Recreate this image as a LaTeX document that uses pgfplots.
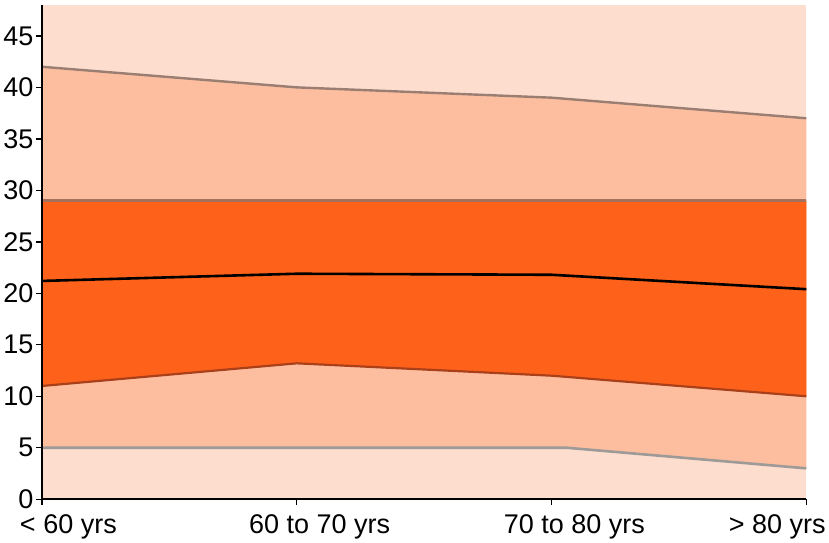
\documentclass[border=0pt]{standalone}
\usepackage{fontspec}
\setmainfont{Liberation Sans}
\usepackage{pgfplots}
\pgfplotsset{compat=1.18}
\definecolor{bgL}{HTML}{FDDDCE}
\definecolor{midO}{HTML}{FDBEA0}
\definecolor{darkO}{HTML}{FE6119}
\definecolor{topL}{HTML}{9A7E72}
\definecolor{ln29}{HTML}{A5705C}
\definecolor{lowL}{HTML}{A9401A}
\definecolor{botL}{HTML}{9E9A98}
\begin{document}
\begin{tikzpicture}
\begin{axis}[
  scale only axis, width=764pt, height=494pt,
  xmin=0, xmax=3, ymin=0, ymax=48,
  axis lines=left, axis line style={-, line width=1.6pt, black},
  axis on top,
  axis background/.style={fill=bgL},
  ytick={0,5,...,45},
  xtick={0,1,2,3}, xticklabels={},
  extra x ticks={0.104,1.09,2.09,2.886},
  extra x tick labels={{< 60 yrs},{60 to 70 yrs},{70 to 80 yrs},{> 80 yrs}},
  extra x tick style={major tick length=0pt},
  tick align=outside, major tick length=6pt,
  tick style={line width=1.4pt, black},
  tick label style={font=\fontsize{27}{30}\selectfont},
  /pgf/number format/assume math mode=true,
  yticklabel style={xshift=1pt},
  xticklabel style={yshift=-12pt},
]
% outer band (upper line to lower grey line)
\addplot[fill=midO, draw=none] coordinates {(0,42) (1,40) (2,39) (3,37) (3,3) (2.06,5) (1,5) (0,5)} -- cycle;
% inner band (29 line to lower dark line)
\addplot[fill=darkO, draw=none] coordinates {(0,29) (1,29) (2,29) (3,29) (3,10) (2,12) (1,13.2) (0,11)} -- cycle;
\addplot[topL, line width=2.4pt] coordinates {(0,42) (1,40) (2,39) (3,37)};
\addplot[ln29, line width=2.4pt] coordinates {(0,29) (1,29) (2,29) (3,29)};
\addplot[lowL, line width=2.2pt] coordinates {(0,11) (1,13.2) (2,12) (3,10)};
\addplot[botL, line width=2.6pt] coordinates {(0,5) (1,5) (2.06,5) (3,3)};
\addplot[black, line width=2.6pt] coordinates {(0,21.2) (1,21.9) (2,21.8) (3,20.4)};
\end{axis}
\path (current axis.north west) ++(0,5pt);
\end{tikzpicture}
\end{document}
